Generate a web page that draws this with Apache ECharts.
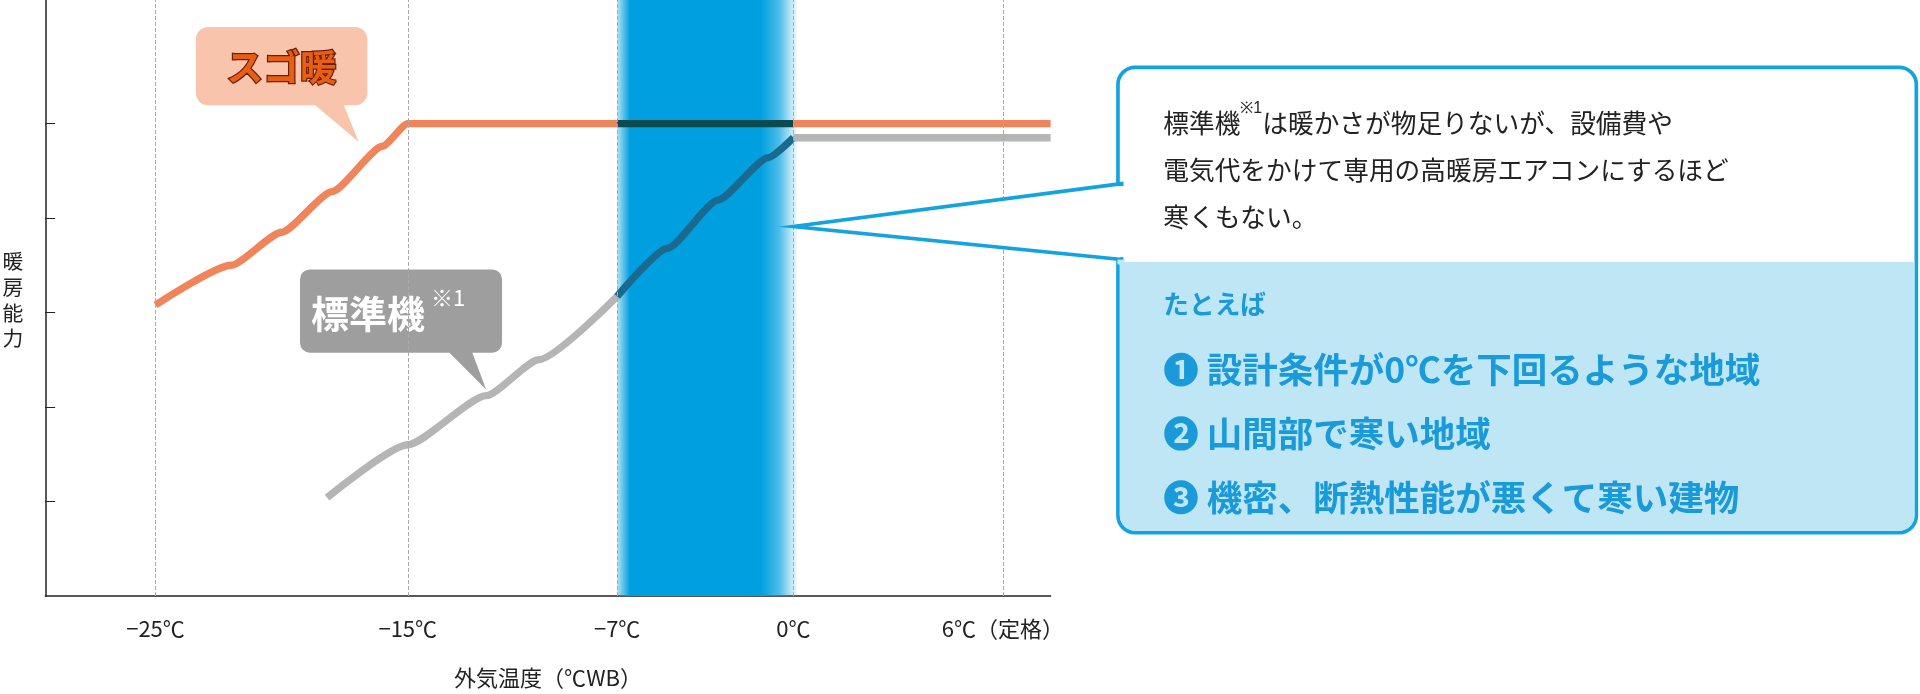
<!DOCTYPE html><html><head><meta charset="utf-8"><script src="https://cdn.jsdelivr.net/npm/echarts@6/dist/echarts.min.js"></script>
<style>body{margin:0}#c{width:1920px;height:694px}</style></head><body><div id="c"></div><script>
const tickTemps=[-25,-15,-7,0,6];
const tickLabels=['−25℃','−15℃','−7℃','0℃','6℃（定格）'];
const tickPos=[90,296,467,611,782];
const sugoTemps=[-25,-22,-20,-18,-16,-15,-7,0,10];
const sugoVals=[3.08,3.5,3.85,4.28,4.76,5.0,5.0,5.0,5.0];
const stdTemps=[-18.2,-15,-12,-10,-7,-5,-3,-1,0,10];
const stdVals=[1.04,1.6,2.12,2.5,3.17,3.68,4.19,4.64,4.85,4.85];
const K=1920/1568;
function X(t){
  if(t>=6) return 782+(t-6)*(171/6);
  for(let i=0;i<4;i++){if(t<=tickTemps[i+1]){const a=tickTemps[i],b=tickTemps[i+1];return tickPos[i]+(t-a)/(b-a)*(tickPos[i+1]-tickPos[i]);}}
}
const bandL=X(-7), bandR=X(0);
function seg(ts,vs,lo,hi){
  const pts=ts.map((t,i)=>[Math.min(X(t),821),vs[i]]);
  const interp=u=>{for(let i=0;i<pts.length-1;i++){if(u>=pts[i][0]&&u<=pts[i+1][0]){const f=(u-pts[i][0])/(pts[i+1][0]-pts[i][0]);return pts[i][1]+f*(pts[i+1][1]-pts[i][1]);}}return null;};
  const r=[];const a=interp(lo);if(a!==null&&lo>pts[0][0])r.push([lo,a]);
  pts.forEach(p=>{if(p[0]>lo&&p[0]<hi)r.push(p);});
  const b=interp(hi);if(b!==null)r.push([hi,b]);
  return r;
}
const c=echarts.init(document.getElementById('c'));
const s=v=>v*K;
const font='"Noto Sans CJK JP"';
function lineSeries(data,color,z){return {type:'line',data,symbol:'none',smooth:0.2,smoothMonotone:'x',z,lineStyle:{color,width:s(6)},silent:true};}
c.setOption({
  animation:false,
  grid:{left:s(37),right:1920-s(858),top:0,bottom:694-s(492)},
  xAxis:{type:'value',min:0,max:821,axisLine:{lineStyle:{color:'#222',width:1.5}},
    axisTick:{show:false},splitLine:{show:false},
    axisLabel:{customValues:tickPos,formatter:v=>tickLabels[tickPos.indexOf(v)]||'',fontSize:s(18),color:'#222',margin:s(18),fontFamily:font},
    name:'外気温度（℃WB）',nameLocation:'middle',nameGap:s(58),nameTextStyle:{fontSize:s(18),color:'#222',fontFamily:font}},
  yAxis:{type:'value',min:0,max:492/78,axisLine:{show:true,lineStyle:{color:'#222',width:1.5}},
    axisTick:{show:true,inside:true,length:s(8),customValues:[1,2,3,4,5],lineStyle:{color:'#222'}},axisLabel:{show:false},splitLine:{show:false}},
  series:[
    {type:'line',data:[],z:1,markArea:{silent:true,itemStyle:{color:{type:'linear',x:0,y:0,x2:1,y2:0,colorStops:[{offset:0,color:'rgba(0,160,224,0.3)'},{offset:0.07,color:'#00a0e0'},{offset:0.8,color:'#00a0e0'},{offset:0.9,color:'rgba(0,160,224,0.7)'},{offset:1,color:'rgba(0,160,224,0.05)'}]}},data:[[{xAxis:bandL},{xAxis:bandR+3}]]},
      markLine:{silent:true,symbol:'none',label:{show:false},lineStyle:{color:'#aaa',type:'dashed',width:1},data:tickPos.map(p=>({xAxis:p}))}},
    lineSeries(seg(sugoTemps,sugoVals,0,bandL),'#f0845a',3),
    lineSeries(seg(sugoTemps,sugoVals,bandL,bandR),'#0b4a4f',3),
    lineSeries(seg(sugoTemps,sugoVals,bandR,821),'#f0845a',3),
    lineSeries(seg(stdTemps,stdVals,0,bandL),'#b5b5b5',3),
    lineSeries(seg(stdTemps,stdVals,bandL,bandR),'#1a6a90',3),
    lineSeries(seg(stdTemps,stdVals,bandR,821),'#b5b5b5',3)
  ],
  graphic:[
    {type:'text',left:s(2),top:s(203),style:{text:'暖\n房\n能\n力',font:`${s(17)}px ${font}`,fill:'#222',lineHeight:s(21)}},
    {type:'polygon',shape:{points:[[s(255),s(84)],[s(280),s(84)],[s(293),s(116)]]},style:{fill:'#f8c4ab'}},
    {type:'rect',shape:{x:s(160),y:s(22),width:s(140),height:s(64),r:s(10)},style:{fill:'#f8c4ab'}},
    {type:'text',x:s(230),y:s(55),style:{text:'スゴ暖',font:`bold ${s(30)}px ${font}`,fill:'#e8600f',stroke:'#6a1e10',lineWidth:s(2),align:'center',verticalAlign:'middle'}},
    {type:'polygon',shape:{points:[[s(365),s(286)],[s(385),s(286)],[s(397),s(318)]]},style:{fill:'#9e9e9e'}},
    {type:'rect',shape:{x:s(245),y:s(220),width:s(165),height:s(68),r:s(8)},style:{fill:'#9e9e9e'}},
    {type:'text',x:s(254),y:s(256),style:{text:'標準機',font:`bold ${s(31)}px ${font}`,fill:'#fff',verticalAlign:'middle'}},
    {type:'text',x:s(352),y:s(243),style:{text:'※1',font:`${s(18)}px ${font}`,fill:'#fff',verticalAlign:'middle'}},
    {type:'rect',z:10,shape:{x:s(913),y:s(55),width:s(652),height:s(380),r:s(14)},style:{fill:'#fff',stroke:'#12a3e0',lineWidth:s(3)}},
    {type:'rect',z:11,shape:{x:s(914.5),y:s(214),width:s(649),height:s(219.5),r:[0,0,s(13),s(13)]},style:{fill:'#bee6f5'}},
    {type:'polygon',z:12,shape:{points:[[s(916),s(150)],[s(648),s(185)],[s(916),s(212)]]},style:{fill:'#fff',stroke:'#12a3e0',lineWidth:s(3)}},
    {type:'rect',z:13,shape:{x:s(912.5),y:s(152),width:s(6),height:s(58)},style:{fill:'#fff'}},
    {type:'rect',z:13,shape:{x:s(912.5),y:s(212),width:s(6),height:s(4)},style:{fill:'#bee6f5'}},
    {type:'text',z:14,x:s(950),y:s(82),style:{text:'標準機{s|※1}は暖かさが物足りないが、設備費や\n電気代をかけて専用の高暖房エアコンにするほど\n寒くもない。',font:`${s(21)}px ${font}`,fill:'#222',lineHeight:s(38),rich:{s:{fontSize:s(13),verticalAlign:'top',lineHeight:s(22)}}}},
    {type:'text',z:14,x:s(950),y:s(238),style:{text:'たとえば',font:`bold ${s(21)}px ${font}`,fill:'#1a9ad9'}},
    {type:'text',z:14,x:s(950),y:s(276),style:{text:'❶ 設計条件が0℃を下回るような地域\n❷ 山間部で寒い地域\n❸ 機密、断熱性能が悪くて寒い建物',font:`bold ${s(29)}px ${font}`,fill:'#1a9ad9',lineHeight:s(52)}}
  ]
});
</script></body></html>
